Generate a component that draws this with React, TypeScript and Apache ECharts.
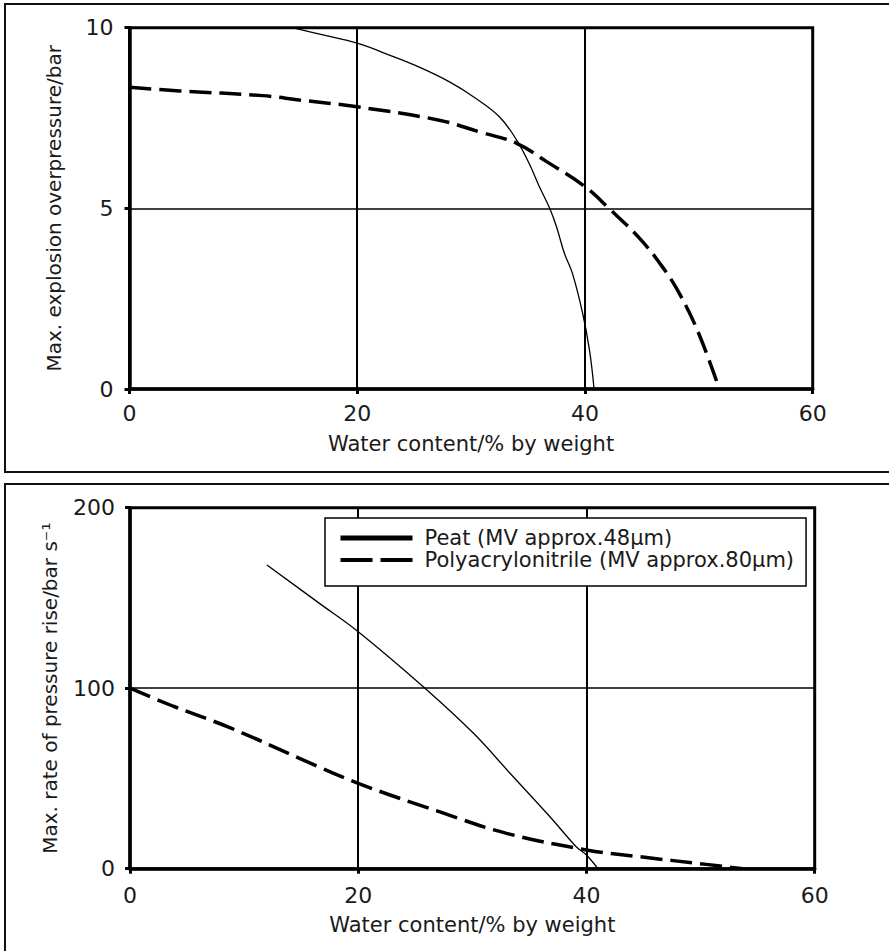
import React, { useEffect, useRef } from "react";
import * as echarts from "echarts";

// ---------- data ----------
const xTicks = [0, 20, 40, 60];
const peatName = "Peat (MV approx.48μm)";
const panName = "Polyacrylonitrile (MV approx.80μm)";
const xTitle = "Water content/% by weight";
const yTitleTop = "Max. explosion overpressure/bar";
const yTitleBottom = "Max. rate of pressure rise/bar s⁻¹";

// Top chart: max. explosion overpressure (bar)
const topPeatWater = [14.3, 17, 20, 23, 25.5, 28.1, 30.2, 32.5, 34.0, 35.1, 36.0, 36.9, 37.5, 38.2, 38.9, 39.8, 40.4, 40.8];
const topPeatPmax = [10, 9.8, 9.57, 9.22, 8.9, 8.5, 8.09, 7.53, 6.89, 6.24, 5.6, 5.0, 4.49, 3.75, 3.2, 2.09, 1.07, 0];
const topPanWater = [0, 4.4, 11.7, 14.9, 20, 27.2, 30.7, 34.0, 36.6, 40.0, 42.1, 44.8, 46.8, 48.3, 50.0, 51.8];
const topPanPmax = [8.35, 8.25, 8.12, 8.0, 7.81, 7.44, 7.12, 6.8, 6.3, 5.6, 5.0, 4.17, 3.38, 2.64, 1.53, 0];

// Bottom chart: max. rate of pressure rise (bar/s)
const botPeatWater = [12.0, 16.6, 20.0, 25.7, 30.1, 33.3, 36.8, 39.1, 40.0, 41.0];
const botPeatRate = [168.3, 147, 131.3, 100.8, 75.0, 52.9, 28.8, 12.2, 7.6, 0];
const botPanWater = [0, 3.8, 8.8, 14.9, 20, 27.1, 33.0, 40.0, 44.7, 50.5, 53.7];
const botPanRate = [100, 90, 78, 61, 47.3, 31.6, 19.6, 10.4, 6.6, 2.4, 0];

const FONT = '"DejaVu Sans", sans-serif';
const TEXT = "#1a1a1a";
const pairs = (xs: number[], ys: number[]) => xs.map((x, i) => [x, ys[i]]);

function xAxis(gridIndex: number, nameGap: number, labelMargin: number) {
  return {
    type: "value",
    gridIndex,
    min: xTicks[0],
    max: xTicks[xTicks.length - 1],
    interval: 20,
    name: xTitle,
    nameLocation: "middle",
    nameGap,
    nameTextStyle: { fontFamily: FONT, fontSize: 21, color: TEXT },
    axisLine: { show: true, lineStyle: { color: "#000", width: 3.5 } },
    axisTick: { show: true, inside: false, length: 5, lineStyle: { color: "#000", width: 3 } },
    axisLabel: { margin: labelMargin, fontFamily: FONT, fontSize: 22, color: TEXT },
    splitLine: { show: true, lineStyle: { color: "#000", width: 2 } },
  };
}

function yAxis(gridIndex: number, max: number, interval: number, name: string, nameGap: number, labelMargin: number) {
  return {
    type: "value",
    gridIndex,
    min: 0,
    max,
    interval,
    name,
    nameLocation: "middle",
    nameGap,
    nameTextStyle: { fontFamily: FONT, fontSize: 20, color: TEXT },
    axisLine: { show: true, lineStyle: { color: "#000", width: 3.5 } },
    axisTick: { show: true, inside: false, length: 5, lineStyle: { color: "#000", width: 3 } },
    axisLabel: { margin: labelMargin, fontFamily: FONT, fontSize: 22, color: TEXT },
    splitLine: { show: true, lineStyle: { color: "#000", width: 1.5 } },
  };
}

const peatStyle = { color: "#000", width: 1.3, type: "solid" as const };
const panStyle = { color: "#000", width: 3.5, type: [22, 8] };

export default function App() {
  const ref = useRef<HTMLDivElement>(null);
  useEffect(() => {
    if (!ref.current) return;
    const chart = echarts.init(ref.current, null, { renderer: "svg" });
    chart.setOption({
      animation: false,
      backgroundColor: "#fff",
      color: ["#000", "#000"],
      graphic: [
        {
          type: "rect",
          silent: true,
          z: -10,
          shape: { x: 5, y: 4, width: 900, height: 468 },
          style: { fill: "none", stroke: "#111", lineWidth: 2 },
        },
        {
          type: "rect",
          silent: true,
          z: -10,
          shape: { x: 5, y: 484, width: 900, height: 500 },
          style: { fill: "none", stroke: "#111", lineWidth: 2 },
        },
      ],
      grid: [
        { left: 129.5, top: 27.7, width: 683.2, height: 361.3, show: true, borderColor: "#000", borderWidth: 3, containLabel: false },
        { left: 130, top: 507.7, width: 684.7, height: 361, show: true, borderColor: "#000", borderWidth: 3, containLabel: false },
      ],
      xAxis: [xAxis(0, 44, 13), xAxis(1, 46, 16)],
      yAxis: [
        yAxis(0, 10, 5, yTitleTop, 66, 16),
        yAxis(1, 200, 100, yTitleBottom, 70, 15),
      ],
      legend: {
        show: true,
        orient: "vertical",
        left: 325,
        top: 518,
        itemWidth: 72,
        itemHeight: 14,
        itemGap: 0,
        padding: [9, 12, 15, 13],
        borderColor: "#000",
        borderWidth: 1.5,
        backgroundColor: "#fff",
        selectedMode: false,
        textStyle: { fontFamily: FONT, fontSize: 21, color: TEXT, lineHeight: 22, padding: [0, 0, 0, 7] },
        data: [
          { name: peatName, itemStyle: { opacity: 0 }, lineStyle: { color: "#000", width: 5, type: "solid" } },
          { name: panName, itemStyle: { opacity: 0 }, lineStyle: { color: "#000", width: 4, type: [32, 8] } },
        ],
      },
      series: [
        {
          name: peatName, type: "line", xAxisIndex: 0, yAxisIndex: 0, symbol: "none", smooth: 0.4,
          itemStyle: { color: "#000" }, lineStyle: peatStyle, data: pairs(topPeatWater, topPeatPmax),
        },
        {
          name: panName, type: "line", xAxisIndex: 0, yAxisIndex: 0, symbol: "none", smooth: 0.4,
          itemStyle: { color: "#000" }, lineStyle: panStyle, data: pairs(topPanWater, topPanPmax),
        },
        {
          name: peatName, type: "line", xAxisIndex: 1, yAxisIndex: 1, symbol: "none", smooth: 0.4,
          itemStyle: { color: "#000" }, lineStyle: peatStyle, data: pairs(botPeatWater, botPeatRate),
        },
        {
          name: panName, type: "line", xAxisIndex: 1, yAxisIndex: 1, symbol: "none", smooth: 0.4,
          itemStyle: { color: "#000" }, lineStyle: panStyle, data: pairs(botPanWater, botPanRate),
        },
      ],
    });
    return () => chart.dispose();
  }, []);
  return (
    <div
      ref={ref}
      style={{ position: "fixed", left: 0, top: 0, width: 889, height: 951, background: "#fff" }}
    />
  );
}
